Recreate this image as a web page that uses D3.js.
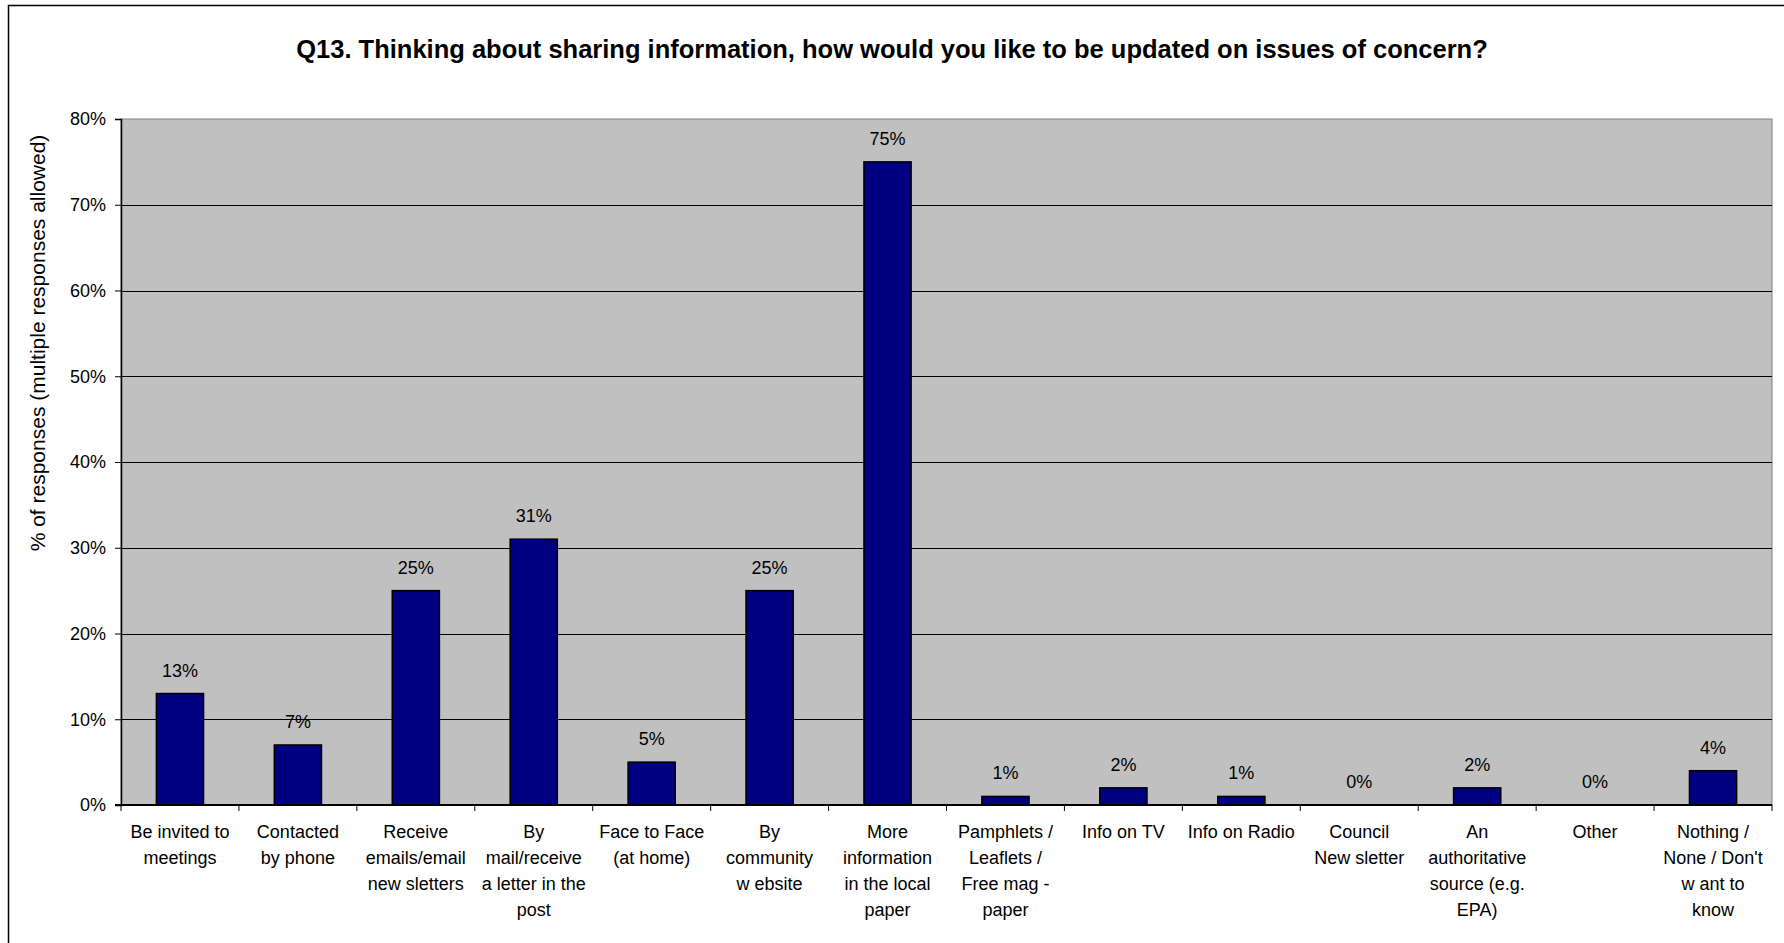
<!DOCTYPE html>
<html>
<head>
<meta charset="utf-8">
<script src="https://cdn.jsdelivr.net/npm/d3@7"></script>
<style>
  html, body { margin: 0; padding: 0; background: #fff; }
  svg { display: block; }
  text { font-family: "Liberation Sans", Arial, sans-serif; fill: #000; }
</style>
</head>
<body>
<svg id="chart" width="1784" height="943"></svg>
<script>
// ---- data ----
const titleText = "Q13. Thinking about sharing information, how would you like to be updated on issues of concern?";
const yAxisTitle = "% of responses (multiple responses allowed)";
const categories = [
  "Be invited to\nmeetings",
  "Contacted\nby phone",
  "Receive\nemails/email\nnew sletters",
  "By\nmail/receive\na letter in the\npost",
  "Face to Face\n(at home)",
  "By\ncommunity\nw ebsite",
  "More\ninformation\nin the local\npaper",
  "Pamphlets /\nLeaflets /\nFree mag -\npaper",
  "Info on TV",
  "Info on Radio",
  "Council\nNew sletter",
  "An\nauthoritative\nsource (e.g.\nEPA)",
  "Other",
  "Nothing /\nNone / Don't\nw ant to\nknow"
];
const values = [13, 7, 25, 31, 5, 25, 75, 1, 2, 1, 0, 2, 0, 4];
const yTicks = [0, 10, 20, 30, 40, 50, 60, 70, 80];

// ---- layout ----
const svg = d3.select("#chart");
const plot = { left: 121, right: 1772, top: 119, bottom: 805 };

// chart border (left and top visible)
svg.append("rect")
  .attr("x", 8.5).attr("y", 5.5)
  .attr("width", 1800).attr("height", 1000)
  .attr("fill", "#fff").attr("stroke", "#000").attr("stroke-width", 1.5);

const x = d3.scaleBand()
  .domain(d3.range(categories.length))
  .range([plot.left, plot.right])
  .paddingInner(0.6).paddingOuter(0.3);
const xb = d3.scaleBand()
  .domain(d3.range(categories.length))
  .range([plot.left, plot.right]);
const y = d3.scaleLinear().domain([0, 80]).range([plot.bottom, plot.top]);

// plot background
svg.append("rect")
  .attr("x", plot.left).attr("y", plot.top)
  .attr("width", plot.right - plot.left).attr("height", plot.bottom - plot.top)
  .attr("fill", "#C0C0C0").attr("stroke", "#808080").attr("stroke-width", 1);

// gridlines
svg.append("g").selectAll("line")
  .data(yTicks.filter(d => d > 0 && d < 80))
  .join("line")
  .attr("x1", plot.left).attr("x2", plot.right)
  .attr("y1", d => Math.round(y(d)) + 0.5).attr("y2", d => Math.round(y(d)) + 0.5)
  .attr("stroke", "#000").attr("stroke-width", 1);

// bars
svg.append("g").selectAll("rect")
  .data(values)
  .join("rect")
  .attr("x", (d, i) => x(i))
  .attr("width", x.bandwidth())
  .attr("y", d => y(d))
  .attr("height", d => y(0) - y(d))
  .attr("fill", "#000080")
  .attr("stroke", "#000").attr("stroke-width", 1.5);

// data labels
svg.append("g").selectAll("text")
  .data(values)
  .join("text")
  .attr("x", (d, i) => x(i) + x.bandwidth() / 2)
  .attr("y", d => y(d) - 17)
  .attr("text-anchor", "middle")
  .attr("font-size", 18)
  .text(d => d + "%");

// y axis
const yAxis = d3.axisLeft(y).tickValues(yTicks).tickFormat(d => d + "%").tickSize(6).tickPadding(9);
const yg = svg.append("g").attr("transform", `translate(${plot.left},0)`).call(yAxis);
yg.select(".domain").attr("stroke", "#000").attr("stroke-width", 1.5);
yg.selectAll(".tick line").attr("stroke", "#000");
yg.selectAll(".tick text").attr("font-size", 18).attr("font-family", "Liberation Sans, Arial, sans-serif").attr("fill", "#000");

// x axis (ticks at band boundaries)
const xg = svg.append("g").attr("transform", `translate(0,${plot.bottom})`);
xg.append("line")
  .attr("x1", plot.left - 6).attr("x2", plot.right)
  .attr("y1", 0).attr("y2", 0)
  .attr("stroke", "#000").attr("stroke-width", 2);
xg.selectAll("line.tk")
  .data(d3.range(categories.length + 1))
  .join("line").attr("class", "tk")
  .attr("x1", i => i < categories.length ? xb(i) : plot.right)
  .attr("x2", i => i < categories.length ? xb(i) : plot.right)
  .attr("y1", 0).attr("y2", 6)
  .attr("stroke", "#000").attr("stroke-width", 1);

// category labels
const cl = svg.append("g").selectAll("text")
  .data(categories)
  .join("text")
  .attr("x", (d, i) => xb(i) + xb.bandwidth() / 2)
  .attr("y", plot.bottom + 33)
  .attr("text-anchor", "middle")
  .attr("font-size", 18);
cl.each(function(d, i) {
  const t = d3.select(this);
  const cx = xb(i) + xb.bandwidth() / 2;
  d.split("\n").forEach((line, k) => {
    t.append("tspan").attr("x", cx).attr("dy", k === 0 ? 0 : 26).text(line);
  });
});

// y axis title
svg.append("text")
  .attr("transform", `translate(45,343) rotate(-90)`)
  .attr("text-anchor", "middle")
  .attr("font-size", 21)
  .text(yAxisTitle);

// title
svg.append("text")
  .attr("x", 892).attr("y", 58)
  .attr("text-anchor", "middle")
  .attr("font-size", 25.5)
  .attr("font-weight", "bold")
  .text(titleText);
</script>
</body>
</html>
